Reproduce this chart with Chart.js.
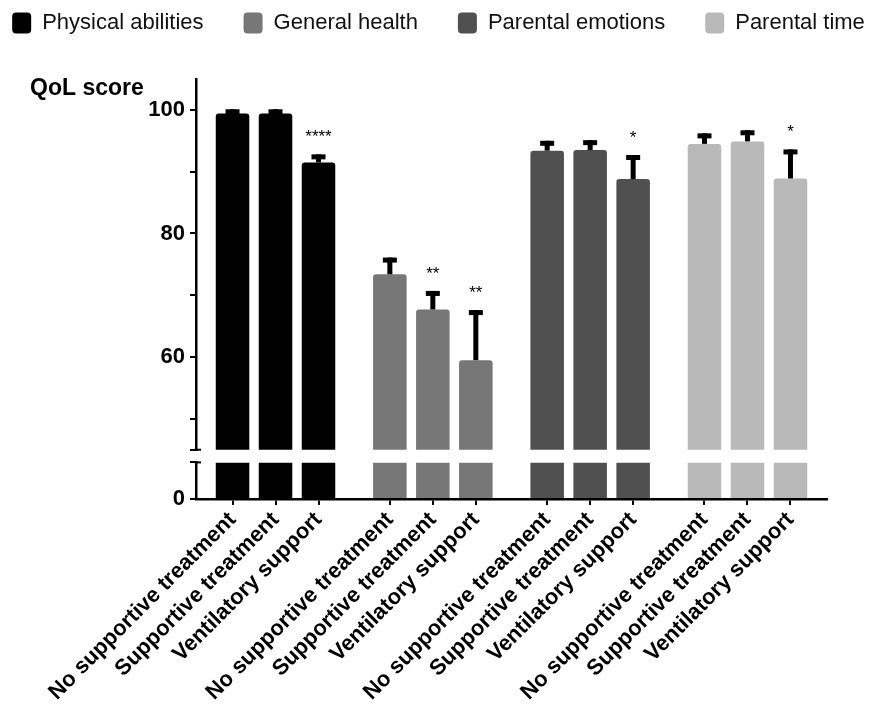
<!DOCTYPE html>
<html>
<head>
<meta charset="utf-8">
<script src="https://cdn.jsdelivr.net/npm/chart.js@4.4.1/dist/chart.umd.min.js"></script>
<style>
  html, body { margin: 0; padding: 0; background: #fff; overflow: hidden; }
  canvas { display: block; }
</style>
</head>
<body>
<canvas id="meuGrafico" width="877" height="706"></canvas>
<script>
// Domínios de qualidade de vida (legenda) e grupos de tratamento (eixo x)
const dominios = ['Physical abilities', 'General health', 'Parental emotions', 'Parental time'];
const tratamentos = ['No supportive treatment', 'Supportive treatment', 'Ventilatory support'];

// Médias (QoL score)
const fisico = [99.4, 99.4, 91.5];
const saude = [73.4, 67.7, 59.5];
const emocoes = [93.4, 93.5, 88.8];
const tempo = [94.5, 94.9, 88.9];

// Barras de erro (só para cima)
const fisicoErro = [0.7, 0.7, 1.3];
const saudeErro = [2.7, 3.0, 8.1];
const emocoesErro = [1.6, 1.6, 3.9];
const tempoErro = [1.7, 1.8, 4.7];

// Significância
const fisicoSig = ['', '', '****'];
const saudeSig = ['', '**', '**'];
const emocoesSig = ['', '', '*'];
const tempoSig = ['', '', '*'];

// Eixo y quebrado: parte de cima e parte de baixo
const ticksSuperior = [45, 50, 60, 70, 80, 90, 100];
const rotulosSuperior = [60, 80, 100];
const ticksInferior = [0, 5];
const rotulosInferior = [0];

const medias = [fisico, saude, emocoes, tempo];
const erros = [fisicoErro, saudeErro, emocoesErro, tempoErro];
const sigs = [fisicoSig, saudeSig, emocoesSig, tempoSig];
const cores = ['#000000', '#777777', '#505050', '#b9b9b9'];

const passoGrupo = 3.66;
const minInferior = 0, maxInferior = 5;
const fonte = 'Arial, "Liberation Sans", sans-serif';

// posição x de cada barra
function posicao(g, i) {
  return g * passoGrupo + i;
}
const rotulosX = [];
dominios.forEach(() => tratamentos.forEach(t => rotulosX.push(t)));
const posicoesX = [];
dominios.forEach((d, g) => tratamentos.forEach((t, i) => posicoesX.push(posicao(g, i))));

const conjuntos = [];
medias.forEach((serie, g) => {
  conjuntos.push({
    label: dominios[g],
    data: serie.map((v, i) => ({ x: posicao(g, i), y: v })),
    backgroundColor: cores[g],
    borderRadius: 3,
    borderSkipped: 'start',
    yAxisID: 'ySup'
  });
});
medias.forEach((serie, g) => {
  conjuntos.push({
    label: dominios[g] + ' (base)',
    data: serie.map((v, i) => ({ x: posicao(g, i), y: Math.min(v, maxInferior) })),
    backgroundColor: cores[g],
    yAxisID: 'yInf'
  });
});

// desenha barras de erro, asteriscos, marcas da quebra e o título do eixo
const extras = {
  id: 'extras',
  beforeInit(chart) {
    // legenda numa linha só e com mais espaço embaixo
    const legenda = chart.legend;
    const fitOriginal = legenda.fit;
    legenda.fit = function () {
      const larguraMax = this.maxWidth;
      this.maxWidth = 2000;
      fitOriginal.call(this);
      this.maxWidth = larguraMax;
      this.width = larguraMax;
      this.height += 35;
    };
    const drawOriginal = legenda.draw;
    legenda.draw = function () {
      const ctx = this.ctx;
      this.right += 100;
      ctx.save();
      ctx.translate(-50, 0);
      drawOriginal.call(this);
      ctx.restore();
      this.right -= 100;
    };
  },
  afterDatasetsDraw(chart) {
    const ctx = chart.ctx;
    const escala = chart.scales.ySup;
    const inferior = chart.scales.yInf;
    ctx.save();
    ctx.fillStyle = '#000';
    medias.forEach((serie, g) => {
      const meta = chart.getDatasetMeta(g);
      meta.data.forEach((barra, i) => {
        const topo = escala.getPixelForValue(serie[i] + erros[g][i]);
        ctx.fillRect(barra.x - 2.5, topo, 5, barra.y - topo);
        ctx.fillRect(barra.x - 7, topo, 14, 5);
        if (sigs[g][i]) {
          ctx.font = '17px ' + fonte;
          ctx.textAlign = 'center';
          ctx.textBaseline = 'alphabetic';
          ctx.fillText(sigs[g][i], barra.x, topo - 12);
        }
      });
    });
    // pequenas marcas à direita nas pontas da quebra
    const xEixo = escala.right;
    ctx.fillRect(xEixo, escala.getPixelForValue(escala.min) - 1, 5, 2);
    ctx.fillRect(xEixo, inferior.getPixelForValue(inferior.max) - 1, 5, 2);

    ctx.font = 'bold 23px ' + fonte;
    ctx.textAlign = 'left';
    ctx.textBaseline = 'alphabetic';
    ctx.fillText('QoL score', 30, 95);
    ctx.restore();
  }
};

const eixoY = (ticks, rotulos) => ({
  type: 'linear',
  position: 'left',
  stack: 'quebrado',
  afterBuildTicks: escala => { escala.ticks = ticks.map(v => ({ value: v })); },
  ticks: {
    color: '#000',
    padding: 5,
    font: { family: fonte, size: 22, weight: 'bold' },
    callback: v => rotulos.includes(v) ? String(v) : ''
  },
  grid: { drawOnChartArea: false, drawTicks: true, tickLength: 6, color: '#000', lineWidth: 2 },
  border: { display: true, color: '#000', width: 2.5 }
});

const contexto = document.getElementById('meuGrafico').getContext('2d');
const meuGrafico = new Chart(contexto, {
  type: 'bar',
  data: { datasets: conjuntos },
  plugins: [extras],
  options: {
    responsive: false,
    animation: false,
    grouped: false,
    categoryPercentage: 1,
    barPercentage: 0.78,
    layout: { padding: { top: -28, left: 0, right: 0, bottom: 0 } },
    plugins: {
      tooltip: { enabled: false },
      legend: {
        position: 'top',
        labels: {
          filter: item => item.datasetIndex < dominios.length,
          boxWidth: 19,
          boxHeight: 21,
          useBorderRadius: true,
          borderRadius: 4,
          padding: 40,
          color: '#111',
          font: { family: fonte, size: 22 }
        }
      }
    },
    scales: {
      x: {
        type: 'linear',
        offset: false,
        min: -0.85,
        max: (dominios.length - 1) * passoGrupo + tratamentos.length - 1 + 0.85,
        afterBuildTicks: escala => { escala.ticks = posicoesX.map(v => ({ value: v })); },
        afterFit: escala => {
          escala.paddingLeft = 196;
          escala.paddingRight = 50;
          escala.height = 207;
        },
        ticks: {
          autoSkip: false,
          minRotation: 45,
          maxRotation: 45,
          color: '#000',
          padding: 2,
          font: { family: fonte, size: 22, weight: 'bold' },
          callback: (v, i) => rotulosX[i]
        },
        grid: { offset: false, drawOnChartArea: false, drawTicks: true, tickLength: 6, color: '#000', lineWidth: 2 },
        border: { display: true, color: '#000', width: 2.5 }
      },
      yInf: Object.assign(eixoY(ticksInferior, rotulosInferior), { min: minInferior, max: maxInferior, stackWeight: 36.6 }),
      yGap: {
        type: 'linear',
        position: 'left',
        stack: 'quebrado',
        stackWeight: 12.7,
        min: 0,
        max: 1,
        ticks: { display: false },
        grid: { display: false },
        border: { display: false }
      },
      ySup: Object.assign(eixoY(ticksSuperior, rotulosSuperior), { min: 45, max: 105, stackWeight: 371 })
    }
  }
});
</script>
</body>
</html>
